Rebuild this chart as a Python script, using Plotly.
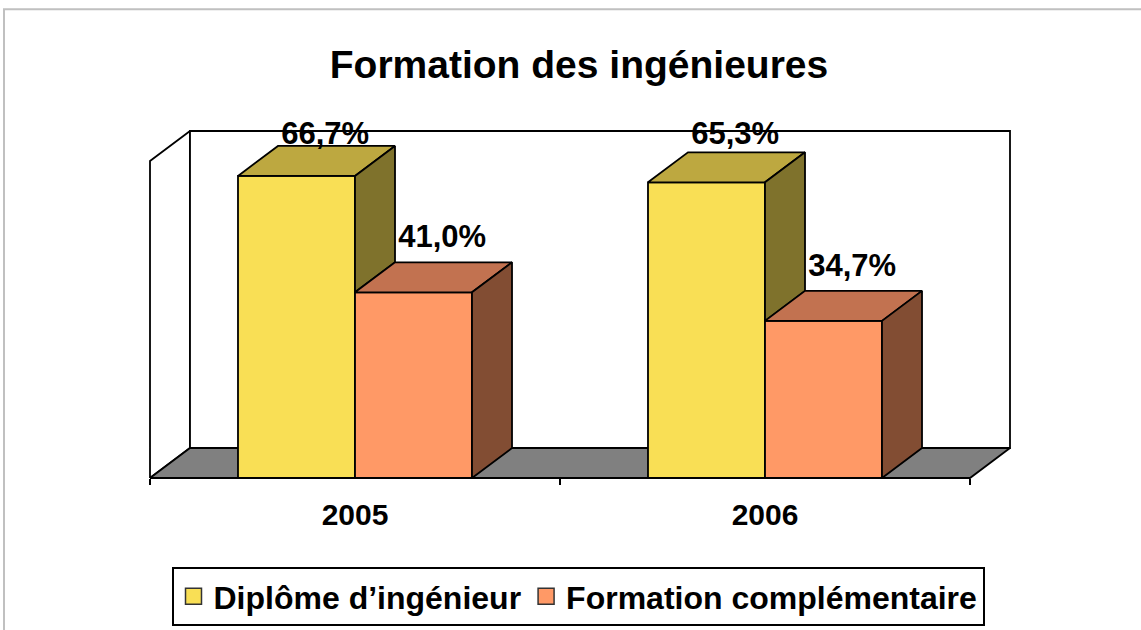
import plotly.graph_objects as go

# ---------------- data ----------------
categories = ["2005", "2006"]
series_names = ["Diplôme d’ingénieur", "Formation complémentaire"]
diplome = [66.7, 65.3]
formation = [41.0, 34.7]
series_values = [diplome, formation]
Y_MAX = 70  # top of the value axis (back wall height)

# ---------------- style ----------------
front_colors = ["#F9DF55", "#FF9966"]
top_colors = ["#BDA840", "#C27250"]
side_colors = ["#7F722C", "#824D33"]
FLOOR_COLOR = "#808080"
FONT = "Liberation Sans"
LINE = dict(color="black", width=1.8)

# ---------------- geometry (pixel layout) ----------------
W, H = 1141, 630
X0_PX, Y0_PX = 150, 478          # pixel of the front-plane origin
PX_X, PX_Y = 410.0, 4.53         # pixels per category / per value unit
DEPTH_X = 40 / PX_X              # 3D depth offset in axis units
DEPTH_Y = 30 / PX_Y
PAD = 3
BAR_W = 0.2854
LABEL_DX = 0.07
LABEL_GAP = 5.1
LABEL_CAP = 75.5

n = len(categories)
xr = [-PAD / PX_X, n + DEPTH_X + PAD / PX_X]
yr = [-PAD / PX_Y, Y_MAX + DEPTH_Y + PAD / PX_Y]
ml = X0_PX - PAD
mr = W - (X0_PX + (n + DEPTH_X) * PX_X + PAD)
mb = H - (Y0_PX + PAD)
mt = Y0_PX - (Y_MAX + DEPTH_Y) * PX_Y - PAD
pw = W - ml - mr
ph = H - mt - mb

fig = go.Figure()


def poly(xs, ys, fill, xaxis="x", yaxis="y"):
    fig.add_trace(go.Scatter(
        x=list(xs) + [xs[0]], y=list(ys) + [ys[0]], mode="lines",
        fill="toself", fillcolor=fill, line=LINE, hoverinfo="skip",
        showlegend=False, xaxis=xaxis, yaxis=yaxis))


# walls and floor (base subplot, drawn beneath the bars)
poly([0, 0, DEPTH_X, DEPTH_X], [0, Y_MAX, Y_MAX + DEPTH_Y, DEPTH_Y], "white")
poly([DEPTH_X, DEPTH_X, n + DEPTH_X, n + DEPTH_X],
     [DEPTH_Y, Y_MAX + DEPTH_Y, Y_MAX + DEPTH_Y, DEPTH_Y], "white")
poly([0, n, n + DEPTH_X, DEPTH_X], [0, 0, DEPTH_Y, DEPTH_Y], FLOOR_COLOR)

centers = [i + 0.5 for i in range(n)]

# front faces as real bars (overlay subplot)
for s, vals in enumerate(series_values):
    fig.add_trace(go.Bar(
        x=centers, y=vals, width=BAR_W, offset=-BAR_W + s * BAR_W,
        name=series_names[s], marker=dict(color=front_colors[s], line=LINE),
        hoverinfo="skip", showlegend=False, legendgroup=series_names[s],
        xaxis="x2", yaxis="y2"))

# top and side faces
for i in range(n):
    for s, vals in enumerate(series_values):
        v = vals[i]
        L = centers[i] - BAR_W + s * BAR_W
        R = L + BAR_W
        poly([L, R, R + DEPTH_X, L + DEPTH_X], [v, v, v + DEPTH_Y, v + DEPTH_Y],
             top_colors[s], "x2", "y2")
        lo = series_values[s + 1][i] if s + 1 < len(series_values) else 0
        if v > lo:
            poly([R, R, R + DEPTH_X, R + DEPTH_X], [lo, v, v + DEPTH_Y, lo + DEPTH_Y],
                 side_colors[s], "x2", "y2")

# legend keys (square swatches like the original)
for s, name in enumerate(series_names):
    fig.add_trace(go.Scatter(
        x=[None], y=[None], mode="markers", name=name, legendgroup=name,
        marker=dict(symbol="square", size=18, color=front_colors[s],
                    line=dict(color="#333333", width=1.5)),
        xaxis="x2", yaxis="y2"))

# data labels
lx, ly, lt = [], [], []
for i in range(n):
    for s, vals in enumerate(series_values):
        v = vals[i]
        lx.append(centers[i] - BAR_W + s * BAR_W + BAR_W / 2 + LABEL_DX)
        ly.append(min(v + DEPTH_Y + LABEL_GAP, LABEL_CAP))
        lt.append(f"{v:.1f}".replace(".", ",") + "%")
fig.add_trace(go.Scatter(
    x=lx, y=ly, text=lt, mode="text", textposition="middle center",
    textfont=dict(family=FONT, size=31, color="black", weight="bold"),
    cliponaxis=False, hoverinfo="skip", showlegend=False, xaxis="x2", yaxis="y2"))

fig.update_layout(
    width=W, height=H,
    margin=dict(l=ml, r=mr, t=mt, b=mb, pad=0, autoexpand=False),
    paper_bgcolor="white", plot_bgcolor="rgba(0,0,0,0)",
    barmode="overlay",
    title=dict(text="Formation des ingénieures", x=579 / W, xanchor="center",
               y=1 - 64 / H, yanchor="middle",
               font=dict(family=FONT, size=39, color="black", weight="bold")),
    xaxis=dict(range=xr, anchor="free", position=PAD / ph, showgrid=False,
               zeroline=False, showline=False, tickmode="array",
               tickvals=centers, ticktext=categories, ticks="",
               ticklabelstandoff=16,
               tickfont=dict(family=FONT, size=30, color="black", weight="bold"),
               minor=dict(tickmode="array", tickvals=list(range(n + 1)),
                          ticks="outside", ticklen=6, tickwidth=1.8,
                          tickcolor="black", showgrid=False),
               fixedrange=True),
    yaxis=dict(range=yr, visible=False, fixedrange=True),
    xaxis2=dict(range=xr, overlaying="x", anchor="y2", visible=False),
    yaxis2=dict(range=yr, overlaying="y", anchor="x2", visible=False),
    showlegend=True,
    legend=dict(orientation="h", xref="container", yref="container",
                x=578 / W, xanchor="center", y=1 - 567 / H, yanchor="top",
                bordercolor="black", borderwidth=2, bgcolor="white",
                font=dict(family=FONT, size=32, color="black", weight="bold"),
                itemwidth=30, traceorder="normal"),
    shapes=[dict(type="rect", xref="paper", yref="paper",
                 x0=(4 - ml) / pw, x1=(W + 10 - ml) / pw,
                 y0=(Y0_PX + PAD - (H + 10)) / ph, y1=(Y0_PX + PAD - 9) / ph,
                 line=dict(color="#C0C0C0", width=2), fillcolor="rgba(0,0,0,0)",
                 layer="below")],
)

fig.write_html("out.html", config={"displayModeBar": False},
               post_script="document.body.style.margin='0';"
                           "document.body.style.overflow='hidden';")
